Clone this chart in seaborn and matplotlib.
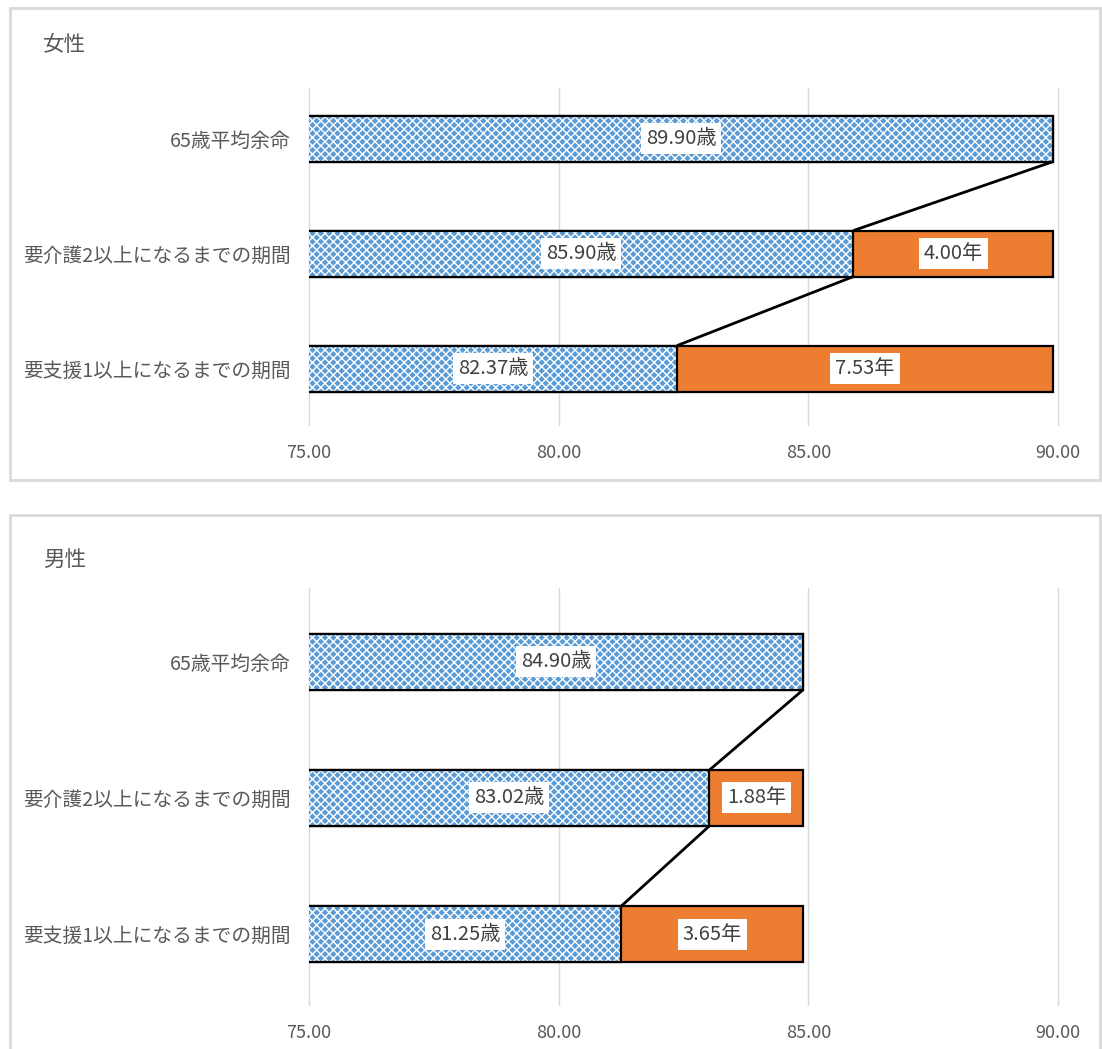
import matplotlib
matplotlib.use("Agg")
import matplotlib.pyplot as plt
import seaborn as sns
import pandas as pd
from matplotlib.patches import Rectangle

categories = ["65歳平均余命", "要介護2以上になるまでの期間", "要支援1以上になるまでの期間"]
female_age = [89.90, 85.90, 82.37]
female_gap = [0.0, 4.00, 7.53]
male_age = [84.90, 83.02, 81.25]
male_gap = [0.0, 1.88, 3.65]
panel_titles = ["女性", "男性"]
x_ticks = [75, 80, 85, 90]

sns.set_style("white")
plt.rcParams["font.family"] = ["Noto Sans CJK JP", "DejaVu Sans"]
plt.rcParams["hatch.linewidth"] = 1.0

BLUE = "#5B9BD5"
ORANGE = "#ED7D31"
GRAY_TXT = "#595959"
DARK_TXT = "#404040"

fig = plt.figure(figsize=(11.02, 10.49), dpi=100)

# panel borders
for (b, h) in [(0.5424, 0.4500), (-0.02, 0.529)]:
    fig.add_artist(Rectangle((0.009, b), 0.989, h, transform=fig.transFigure,
                             fill=False, edgecolor="#D9D9D9", linewidth=2))

axes_pos = [[0.2804, 0.5949, 0.6797, 0.3212], [0.2804, 0.0419, 0.6797, 0.3975]]
ylims = [(2.49, -0.44), (2.52, -0.54)]
title_y = [0.957, 0.466]
datasets = [(female_age, female_gap), (male_age, male_gap)]
bar_w = [0.40, 0.41]

for k in range(2):
    age, gap = datasets[k]
    total = [a + g for a, g in zip(age, gap)]
    df = pd.DataFrame({"cat": categories, "age": age, "total": total})
    ax = fig.add_axes(axes_pos[k])
    w = bar_w[k]
    sns.barplot(data=df, x="total", y="cat", orient="h", color=ORANGE, saturation=1,
                width=w, edgecolor="black", linewidth=1.6, ax=ax, zorder=2)
    sns.barplot(data=df, x="age", y="cat", orient="h", color=BLUE, saturation=1,
                width=w, edgecolor="white", linewidth=0, hatch="xxxx", ax=ax, zorder=3)
    sns.barplot(data=df, x="age", y="cat", orient="h", color="none", saturation=1,
                width=w, edgecolor="black", linewidth=1.6, fill=False, ax=ax, zorder=4)
    # series lines
    for i in range(len(categories) - 1):
        ax.plot([age[i], age[i + 1]], [i + w / 2, i + 1 - w / 2],
                color="black", linewidth=2, zorder=5, solid_capstyle="butt")
    # data labels
    for i in range(len(categories)):
        ax.text((75 + age[i]) / 2, i, f"{age[i]:.2f}歳", ha="center", va="center",
                fontsize=14.5, color=DARK_TXT, zorder=6,
                bbox=dict(boxstyle="square,pad=0.25", fc="white", ec="none"))
        if gap[i] > 0:
            ax.text(age[i] + gap[i] / 2, i, f"{gap[i]:.2f}年", ha="center", va="center",
                    fontsize=14.5, color=DARK_TXT, zorder=6,
                    bbox=dict(boxstyle="square,pad=0.25", fc="white", ec="none"))
    ax.set_xlim(75, 90)
    ax.set_ylim(*ylims[k])
    ax.set_xticks(x_ticks)
    ax.set_xticklabels([f"{t:.2f}" for t in x_ticks])
    ax.xaxis.grid(True, color="#D9D9D9", linewidth=1)
    for gl in ax.get_xgridlines():
        gl.set_clip_on(False)
    ax.set_axisbelow(True)
    ax.set_xlabel("")
    ax.set_ylabel("")
    for s in ax.spines.values():
        s.set_visible(False)
    ax.tick_params(axis="x", length=0, labelsize=13, colors=GRAY_TXT, pad=14)
    ax.tick_params(axis="y", length=0, labelsize=14.2, colors=GRAY_TXT, pad=13)
    fig.text(0.039, title_y[k], panel_titles[k], fontsize=15.5, color=GRAY_TXT,
             ha="left", va="center")

fig.savefig("out.png", dpi=100, facecolor="white")
